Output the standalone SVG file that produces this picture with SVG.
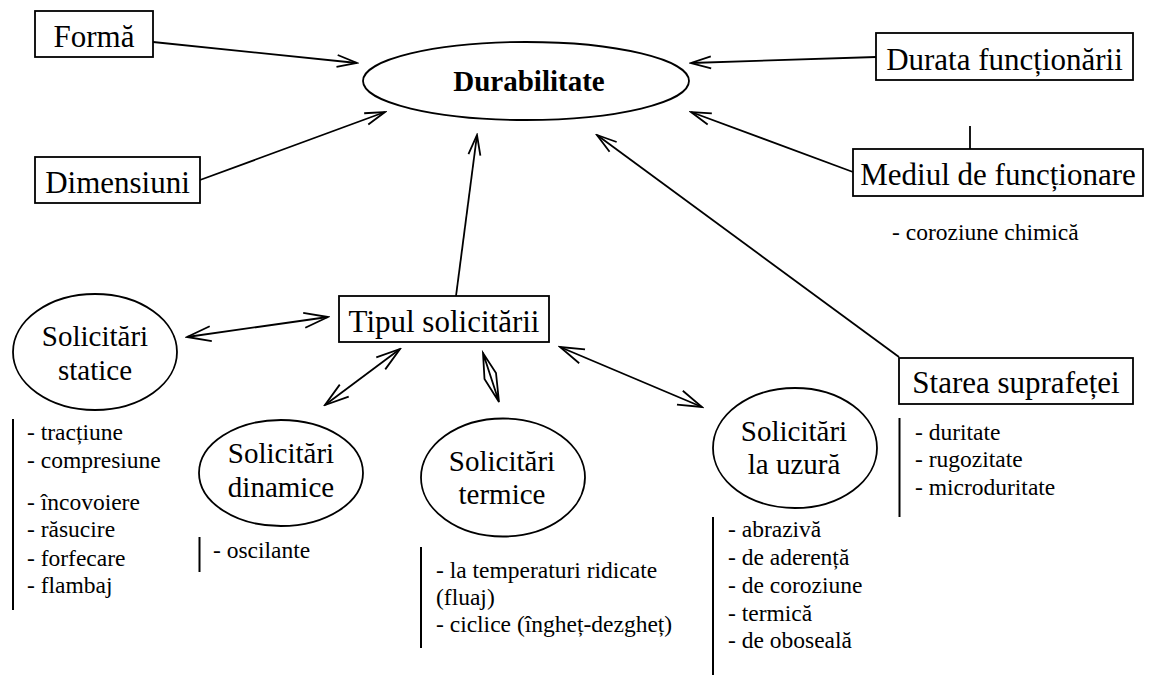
<svg xmlns="http://www.w3.org/2000/svg" width="1151" height="675" viewBox="0 0 1151 675" font-family="Liberation Serif, Times New Roman, serif">
  <style>
    .box { fill: #fff; stroke: #000; stroke-width: 1.8; }
    .ell { fill: #fff; stroke: #000; stroke-width: 1.8; }
    .lbl { font-size: 31px; text-anchor: middle; }
    .elbl { font-size: 29px; text-anchor: middle; }
    .title { font-size: 29px; font-weight: bold; text-anchor: middle; }
    .lst { font-size: 23.5px; }
    .bar { stroke: #000; stroke-width: 2; fill: none; }
    .conn { stroke: #000; stroke-width: 1.8; fill: none; }
    .one { marker-end: url(#ah); }
    .two { marker-start: url(#ah2); marker-end: url(#ah2); }
  </style>
  <defs>
    <marker id="ah" markerUnits="userSpaceOnUse" markerWidth="24" markerHeight="16" viewBox="0 0 24 16" refX="22" refY="8" orient="auto">
      <path d="M2,2 L22,8 L2,14" fill="none" stroke="#000" stroke-width="1.8"/>
    </marker>
    <marker id="ah2" markerUnits="userSpaceOnUse" markerWidth="28" markerHeight="20" viewBox="0 0 28 20" refX="26" refY="10" orient="auto-start-reverse">
      <path d="M2,2.5 L26,10 L2,17.5" fill="none" stroke="#000" stroke-width="1.8"/>
    </marker>
  </defs>

  <!-- connectors -->
  <g id="connectors">
    <line class="conn one" x1="153" y1="42" x2="357" y2="63"/>
    <line class="conn one" x1="200" y1="180" x2="385" y2="112"/>
    <line class="conn one" x1="876" y1="57" x2="691" y2="63"/>
    <line class="conn one" x1="853" y1="172" x2="691" y2="112"/>
    <line class="conn one" x1="899" y1="357" x2="597" y2="135"/>
    <line class="conn one" x1="456" y1="296" x2="477" y2="135"/>
    <line class="conn" x1="970" y1="126" x2="970" y2="149"/>
    <line class="conn two" x1="187" y1="337" x2="328" y2="317"/>
    <line class="conn two" x1="325" y1="405" x2="400" y2="349"/>
    <line class="conn two" x1="560" y1="347" x2="702" y2="407"/>
    <!-- short two-way link whose heads meet in a lozenge -->
    <path class="conn" d="M483,353 L499,402 M483,353 L484.5,379 L499,402 L496,373 Z"/>
  </g>

  <g id="durabilitate">
    <ellipse class="ell" cx="526" cy="81" rx="163" ry="39"/>
    <text class="title" x="529" y="91">Durabilitate</text>
  </g>

  <g id="forma">
    <rect class="box" x="35" y="11" width="118" height="46"/>
    <text class="lbl" x="94" y="47">Formă</text>
  </g>

  <g id="dimensiuni">
    <rect class="box" x="35" y="157" width="165" height="46"/>
    <text class="lbl" x="117.5" y="193">Dimensiuni</text>
  </g>

  <g id="durata">
    <rect class="box" x="876" y="33" width="257" height="47"/>
    <text class="lbl" x="1004.5" y="70">Durata funcționării</text>
  </g>

  <g id="mediul">
    <rect class="box" x="853" y="149" width="290" height="47"/>
    <text class="lbl" x="998" y="185">Mediul de funcționare</text>
    <text class="lst" x="892" y="240">- coroziune chimică</text>
  </g>

  <g id="tipul">
    <rect class="box" x="339" y="296" width="210" height="46"/>
    <text class="lbl" x="444" y="332">Tipul solicitării</text>
  </g>

  <g id="starea">
    <rect class="box" x="899" y="358" width="234" height="46"/>
    <text class="lbl" x="1016" y="393">Starea suprafeței</text>
    <line class="bar" x1="899.5" y1="418" x2="899.5" y2="517"/>
    <text class="lst" x="915" y="440">- duritate</text>
    <text class="lst" x="915" y="467">- rugozitate</text>
    <text class="lst" x="915" y="495">- microduritate</text>
  </g>

  <g id="statice">
    <ellipse class="ell" cx="95" cy="352" rx="82" ry="58"/>
    <text class="elbl" x="95" y="346">Solicitări</text>
    <text class="elbl" x="95" y="380">statice</text>
    <line class="bar" x1="13" y1="419" x2="13" y2="610"/>
    <text class="lst" x="27" y="440">- tracțiune</text>
    <text class="lst" x="27" y="468">- compresiune</text>
    <text class="lst" x="27" y="510">- încovoiere</text>
    <text class="lst" x="27" y="537">- răsucire</text>
    <text class="lst" x="27" y="566">- forfecare</text>
    <text class="lst" x="27" y="593">- flambaj</text>
  </g>

  <g id="dinamice">
    <ellipse class="ell" cx="281" cy="473" rx="82" ry="53"/>
    <text class="elbl" x="281" y="463">Solicitări</text>
    <text class="elbl" x="281" y="497">dinamice</text>
    <line class="bar" x1="199.5" y1="537" x2="199.5" y2="572"/>
    <text class="lst" x="213" y="558">- oscilante</text>
  </g>

  <g id="termice">
    <ellipse class="ell" cx="503" cy="477.5" rx="82" ry="59"/>
    <text class="elbl" x="502" y="471">Solicitări</text>
    <text class="elbl" x="502" y="504">termice</text>
    <line class="bar" x1="421" y1="547" x2="421" y2="648"/>
    <text class="lst" x="436" y="578">- la temperaturi ridicate</text>
    <text class="lst" x="436" y="605"> (fluaj)</text>
    <text class="lst" x="436" y="632">- ciclice (îngheț-dezgheț)</text>
  </g>

  <g id="uzura">
    <ellipse class="ell" cx="795" cy="448" rx="82" ry="60"/>
    <text class="elbl" x="794" y="441">Solicitări</text>
    <text class="elbl" x="794" y="474">la uzură</text>
    <line class="bar" x1="713" y1="517" x2="713" y2="675"/>
    <text class="lst" x="728" y="537">- abrazivă</text>
    <text class="lst" x="728" y="565">- de aderență</text>
    <text class="lst" x="728" y="593">- de coroziune</text>
    <text class="lst" x="728" y="621">- termică</text>
    <text class="lst" x="728" y="648">- de oboseală</text>
  </g>
</svg>
